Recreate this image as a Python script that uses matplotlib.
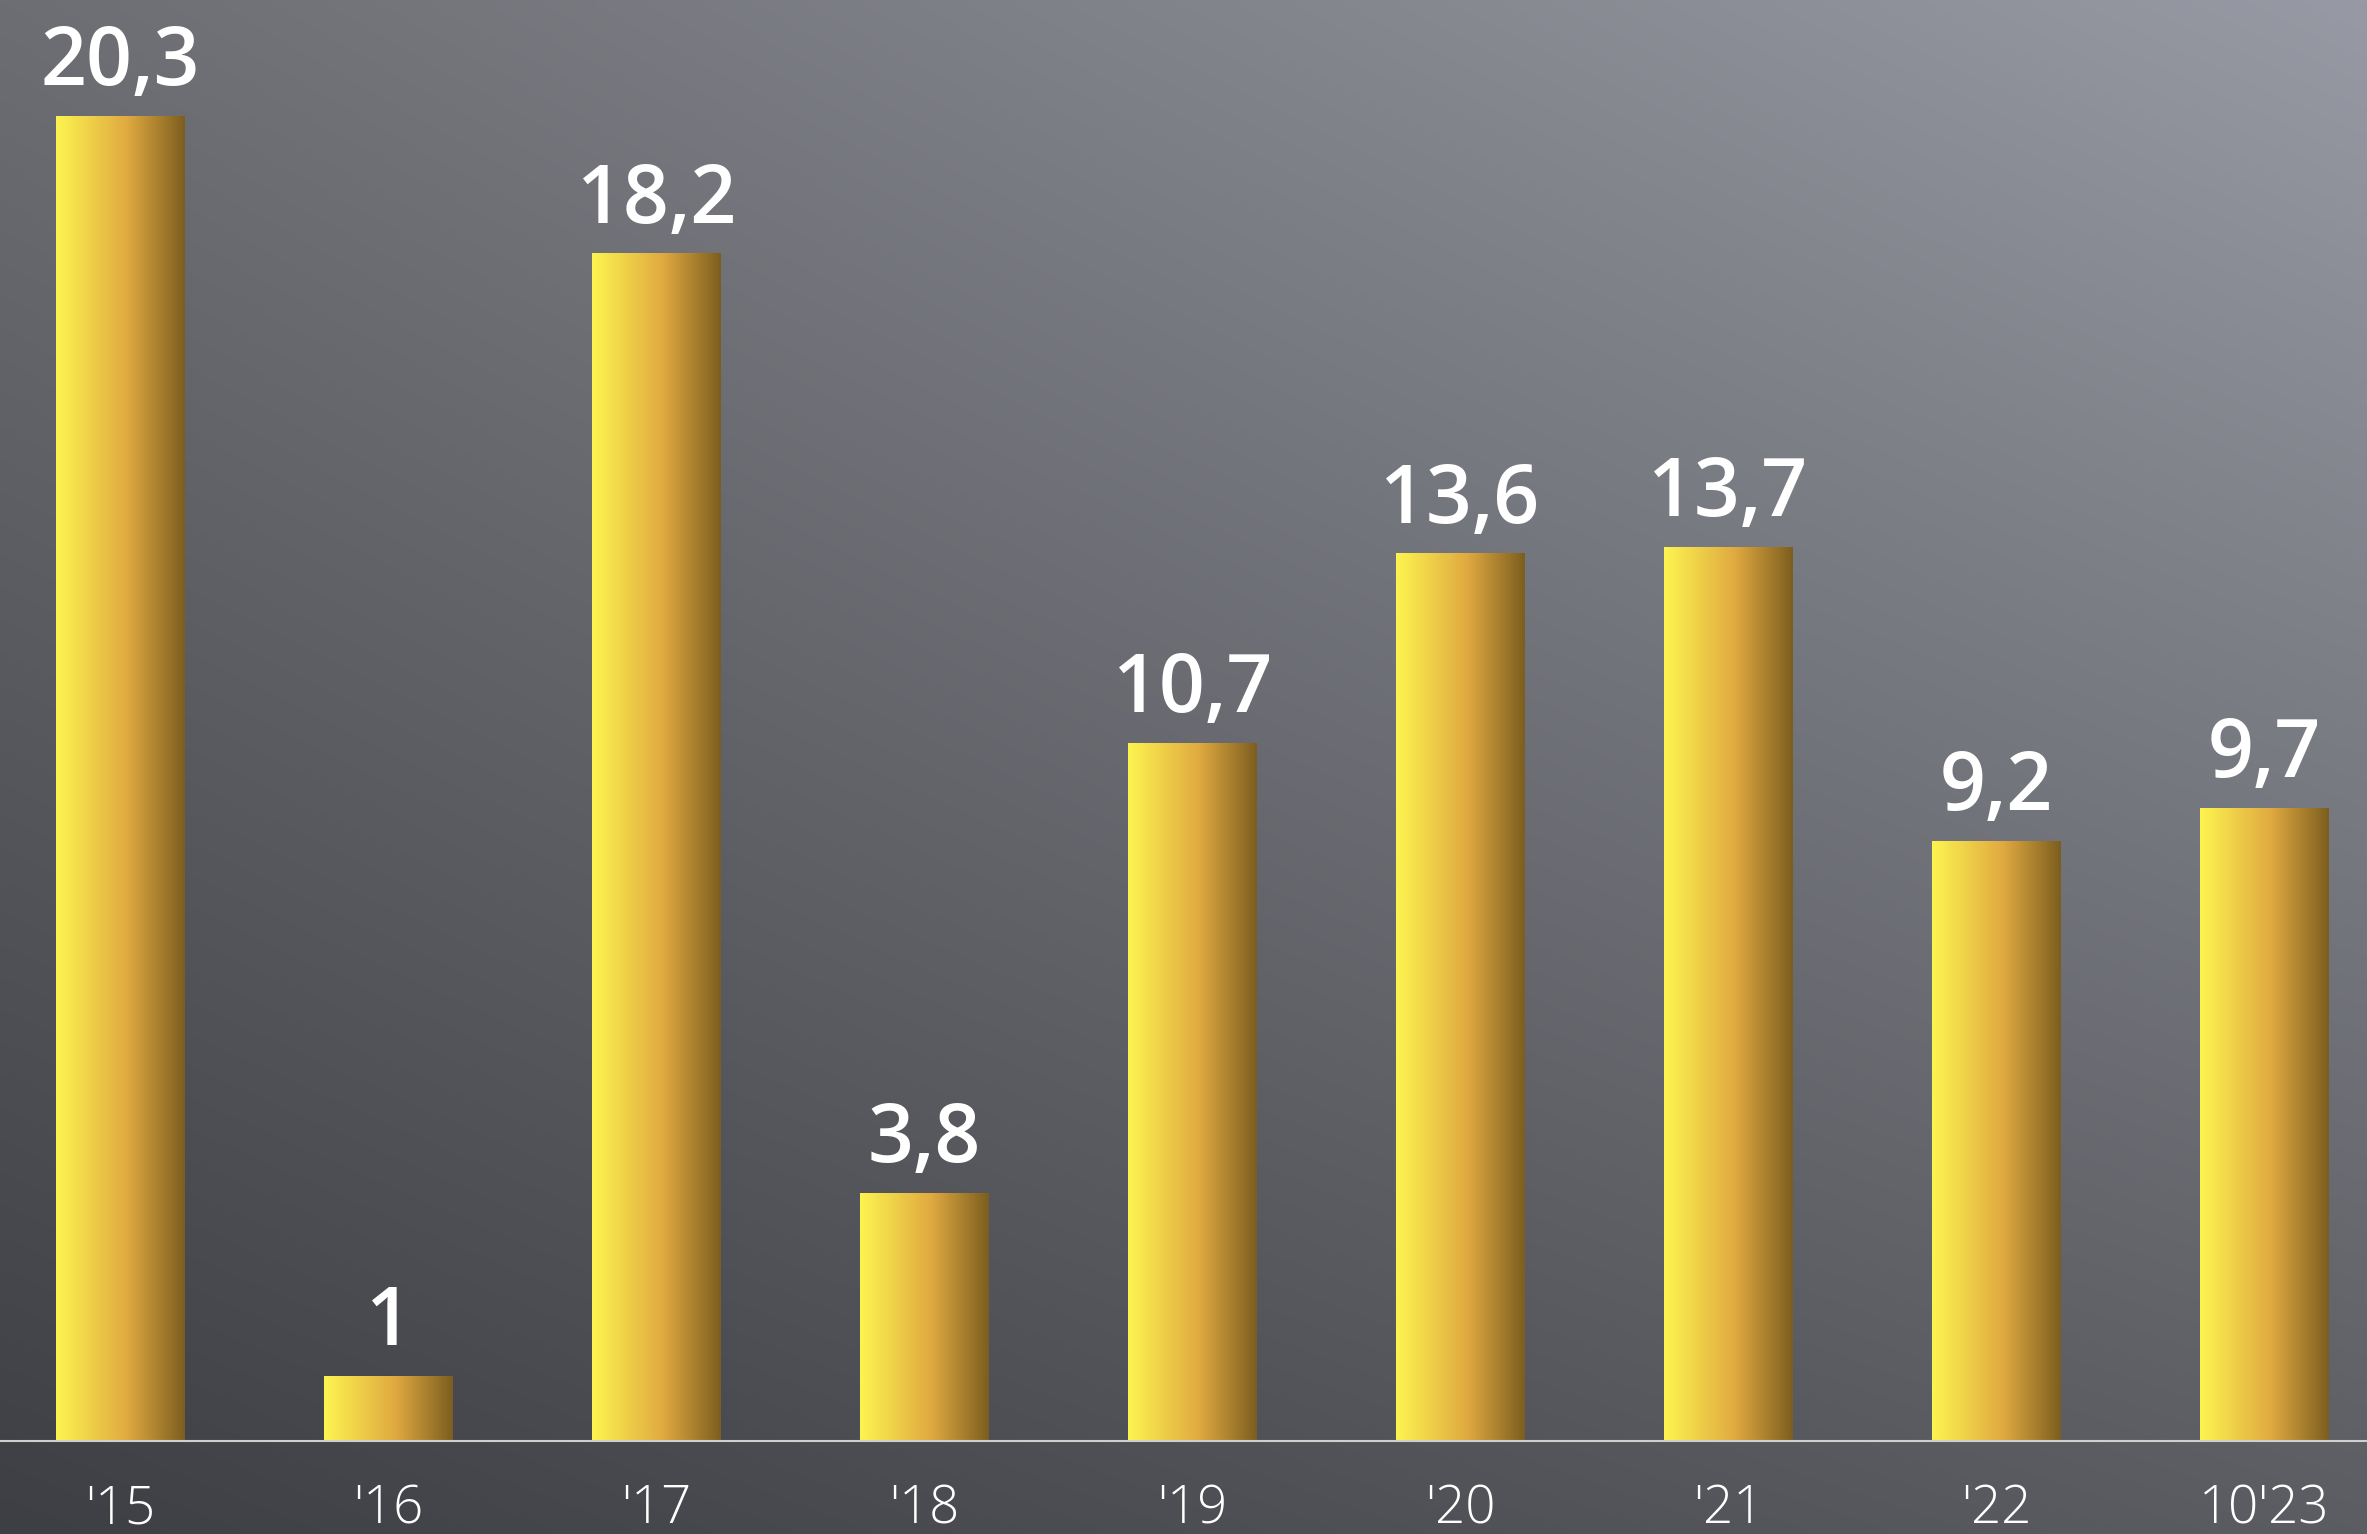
import numpy as np
import matplotlib
matplotlib.use('Agg')
import matplotlib.pyplot as plt
from matplotlib.colors import LinearSegmentedColormap

years = ["'15", "'16", "'17", "'18", "'19", "'20", "'21", "'22", "10'23"]
values = [20.3, 1, 18.2, 3.8, 10.7, 13.6, 13.7, 9.2, 9.7]
value_labels = ["20,3", "1", "18,2", "3,8", "10,7", "13,6", "13,7", "9,2", "9,7"]

plt.rcParams['font.family'] = ['Open Sans', 'DejaVu Sans']

fig = plt.figure(figsize=(23.67, 15.34), dpi=100)

# background gradient: dark bottom-left, light top-right
bg = fig.add_axes([0, 0, 1, 1])
bg.set_axis_off()
tl, tr = np.array([0x6d, 0x6e, 0x73]), np.array([0x97, 0x9a, 0xa4])
bl, br = np.array([0x3e, 0x3f, 0x44]), np.array([0x5c, 0x5d, 0x62])
u = np.linspace(0, 1, 200)[None, :, None]
v = np.linspace(0, 1, 200)[:, None, None]
img = (tl * (1 - u) * (1 - v) + tr * u * (1 - v) + bl * (1 - u) * v + br * u * v) / 255
bg.imshow(img, aspect='auto', extent=[0, 1, 0, 1], interpolation='bilinear')
bg.set_xlim(0, 1)
bg.set_ylim(0, 1)

ax = fig.add_axes([0, 93 / 1534, 1, 1441 / 1534])
ax.patch.set_alpha(0)
x = np.arange(len(years))
bars = ax.bar(x, values, width=0.48, color='none', edgecolor='none')

gold = LinearSegmentedColormap.from_list(
    'gold', [(0, '#fdf450'), (0.55, '#e0aa40'), (1, '#7d5e1f')])
grad = np.linspace(0, 1, 256)[None, :]
for b in bars:
    x0, y0, w, h = b.get_x(), b.get_y(), b.get_width(), b.get_height()
    im = ax.imshow(grad, cmap=gold, aspect='auto',
                   extent=[x0, x0 + w, y0, y0 + h], zorder=2)
    im.set_clip_path(b)

for xi, val, lab in zip(x, values, value_labels):
    ax.text(xi, val + 0.47, lab, ha='center', va='baseline', color='white',
            fontsize=58, fontweight='semibold')

ax.set_xlim(-0.45, 8.385)
ax.set_ylim(0, 22.08)
for s in ['top', 'right', 'left']:
    ax.spines[s].set_visible(False)
ax.spines['bottom'].set_color('#cfcfcf')
ax.spines['bottom'].set_linewidth(1.5)
ax.set_yticks([])
ax.set_xticks(x)
ax.set_xticklabels(years, fontsize=38, color='white', fontweight='light')
ax.tick_params(axis='x', length=0, pad=30)

fig.savefig('out.png', dpi=100)
plt.close(fig)
